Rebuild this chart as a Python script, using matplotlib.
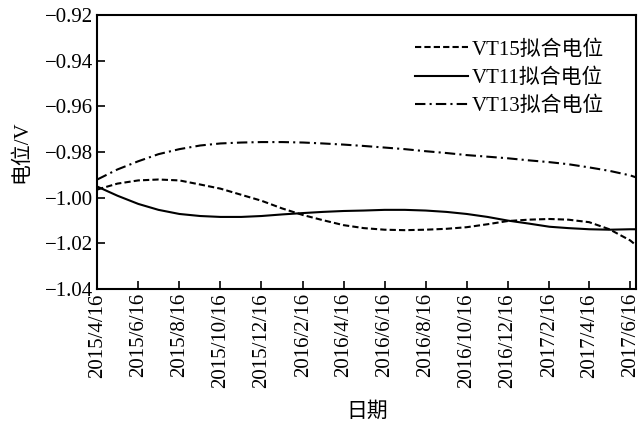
import matplotlib
matplotlib.use("Agg")
import matplotlib.pyplot as plt
import pandas as pd

plt.rcParams['font.family'] = ['Liberation Serif', 'Noto Sans CJK SC']

# dates of the read-off points (monthly, plus the right edge)
dates = ['2015-04-16', '2015-05-16', '2015-06-16', '2015-07-16', '2015-08-16',
         '2015-09-16', '2015-10-16', '2015-11-16', '2015-12-16', '2016-01-16',
         '2016-02-16', '2016-03-16', '2016-04-16', '2016-05-16', '2016-06-16',
         '2016-07-16', '2016-08-16', '2016-09-16', '2016-10-16', '2016-11-16',
         '2016-12-16', '2017-01-16', '2017-02-16', '2017-03-16', '2017-04-16',
         '2017-05-16', '2017-06-16', '2017-06-25']

vt15 = [-0.9964, -0.9938, -0.9924, -0.9920, -0.9924, -0.9942, -0.9960, -0.9987,
        -1.0013, -1.0047, -1.0076, -1.0098, -1.0120, -1.0133, -1.0140, -1.0142,
        -1.0140, -1.0136, -1.0129, -1.0116, -1.0102, -1.0096, -1.0093, -1.0096,
        -1.0107, -1.0138, -1.0187, -1.0209]

vt11 = [-0.9951, -0.9991, -1.0027, -1.0053, -1.0071, -1.0080, -1.0084, -1.0084,
        -1.0080, -1.0073, -1.0067, -1.0062, -1.0058, -1.0056, -1.0053, -1.0053,
        -1.0056, -1.0062, -1.0071, -1.0084, -1.0100, -1.0113, -1.0127, -1.0133,
        -1.0138, -1.0140, -1.0138, -1.0138]

vt13 = [-0.9920, -0.9876, -0.9840, -0.9809, -0.9787, -0.9771, -0.9762, -0.9758,
        -0.9756, -0.9756, -0.9758, -0.9762, -0.9767, -0.9773, -0.9780, -0.9787,
        -0.9796, -0.9804, -0.9813, -0.9820, -0.9827, -0.9836, -0.9844, -0.9853,
        -0.9867, -0.9882, -0.9902, -0.9911]

tick_dates = ['2015-04-16', '2015-06-16', '2015-08-16', '2015-10-16', '2015-12-16',
              '2016-02-16', '2016-04-16', '2016-06-16', '2016-08-16', '2016-10-16',
              '2016-12-16', '2017-02-16', '2017-04-16', '2017-06-16']
tick_labels = ['2015/4/16', '2015/6/16', '2015/8/16', '2015/10/16', '2015/12/16',
               '2016/2/16', '2016/4/16', '2016/6/16', '2016/8/16', '2016/10/16',
               '2016/12/16', '2017/2/16', '2017/4/16', '2017/6/16']

yticks = [-1.04, -1.02, -1.00, -0.98, -0.96, -0.94, -0.92]

x = pd.to_datetime(dates)

fig = plt.figure(figsize=(6.44, 4.34), dpi=100)
ax = fig.add_axes([0.151, 0.334, 0.837, 0.631])

ax.plot(x, vt15, color='black', linestyle=(0, (3, 1.5)), linewidth=1.5, label='VT15拟合电位')
ax.plot(x, vt11, color='black', linestyle='-', linewidth=1.5, label='VT11拟合电位')
ax.plot(x, vt13, color='black', linestyle=(0, (5, 2, 1, 2)), linewidth=1.5, label='VT13拟合电位')

ax.set_xlim(pd.Timestamp(dates[0]), pd.Timestamp(dates[-1]))
ax.set_ylim(-1.04, -0.92)
ax.set_xticks(pd.to_datetime(tick_dates))
ax.set_xticklabels(tick_labels, rotation=90, fontsize=15)
ax.set_yticks(yticks)
ax.set_yticklabels(['\u2212%.2f' % abs(v) for v in yticks], fontsize=15)
ax.tick_params(direction='in', length=6, width=1.2, top=False, right=False, pad=3)

for s in ax.spines.values():
    s.set_linewidth(1.5)

ax.set_xlabel('日期', fontsize=15, labelpad=10)
ax.set_ylabel('电位/V', fontsize=15, labelpad=10)

ax.legend(loc='upper right', bbox_to_anchor=(0.955, 0.94), frameon=False, fontsize=15,
          handlelength=2.55, handletextpad=0.15, labelspacing=0.42, borderaxespad=0)

fig.savefig('out.png', dpi=100)
